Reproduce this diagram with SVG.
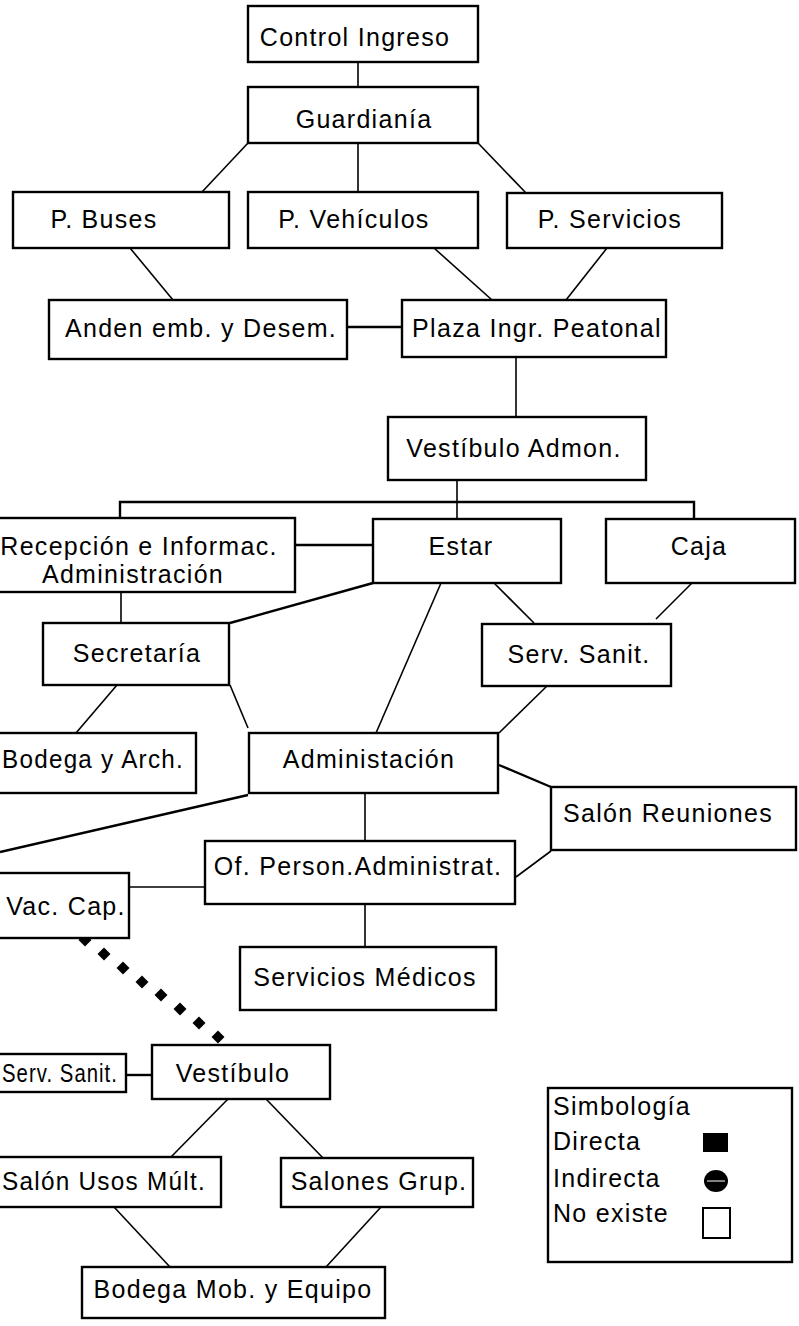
<svg xmlns="http://www.w3.org/2000/svg" xmlns:xlink="http://www.w3.org/1999/xlink" width="799" height="1326" viewBox="0 0 799 1326">
<style>
.b{fill:#fff;stroke:#000;stroke-width:2.4}
.c line,.c polyline{stroke:#000;stroke-width:1.6;fill:none}
.c .t{stroke-width:2.4}
text{font-family:"Liberation Sans",Arial,Helvetica,sans-serif;font-size:25px;letter-spacing:1.3px;fill:#000;text-anchor:middle}
.e{text-anchor:end}
.s{text-anchor:start}
</style>
<defs>
<polygon id="dm" points="0,-6.5 6.5,0 0,6.5 -6.5,0" fill="#000"/>
</defs>
<rect width="799" height="1326" fill="#fff"/>
<g class="c" id="connectors">
<line x1="358" y1="62" x2="358" y2="87"/>
<line x1="248" y1="143" x2="202" y2="192"/>
<line x1="358" y1="143" x2="358" y2="192"/>
<line x1="478" y1="143" x2="526" y2="193"/>
<line x1="130" y1="248" x2="173" y2="300"/>
<line x1="434" y1="248" x2="492" y2="300"/>
<line x1="607" y1="248" x2="566" y2="300"/>
<line class="t" x1="347" y1="327" x2="402" y2="327"/>
<line x1="516" y1="357" x2="516" y2="417"/>
<line x1="457" y1="480" x2="457" y2="519"/>
<polyline class="t" points="120,518 120,502 694,502 694,519"/>
<line class="t" x1="295" y1="545" x2="373" y2="545"/>
<line class="t" x1="373" y1="583" x2="230" y2="623"/>
<line x1="441" y1="583" x2="376" y2="733"/>
<line x1="494" y1="583" x2="534" y2="623"/>
<line x1="692" y1="583" x2="656" y2="619"/>
<line x1="121" y1="592" x2="121" y2="623"/>
<line x1="117" y1="685" x2="76" y2="733"/>
<line x1="230" y1="685" x2="248" y2="728"/>
<line x1="547" y1="686" x2="499" y2="733"/>
<line class="t" x1="499" y1="765" x2="551" y2="787"/>
<line class="t" x1="248" y1="795" x2="0" y2="852"/>
<line x1="365" y1="793" x2="365" y2="841"/>
<line x1="516" y1="877" x2="551" y2="851"/>
<line x1="129" y1="887" x2="205" y2="887"/>
<line x1="365" y1="904" x2="365" y2="947"/>
<line class="t" x1="126" y1="1075" x2="152" y2="1075"/>
<line x1="228" y1="1099" x2="171" y2="1157"/>
<line x1="266" y1="1099" x2="323" y2="1158"/>
<line x1="114" y1="1207" x2="170" y2="1267"/>
<line x1="381" y1="1207" x2="326" y2="1267"/>
<g id="dotted">
<use xlink:href="#dm" x="85" y="940"/>
<use xlink:href="#dm" x="104" y="954"/>
<use xlink:href="#dm" x="123" y="968"/>
<use xlink:href="#dm" x="142" y="982"/>
<use xlink:href="#dm" x="161" y="995"/>
<use xlink:href="#dm" x="180" y="1009"/>
<use xlink:href="#dm" x="199" y="1023"/>
<use xlink:href="#dm" x="218" y="1037"/>
</g>
</g>
<g id="control"><rect class="b" x="248" y="6" width="230" height="56"/><text x="355" y="46">Control Ingreso</text></g>
<g id="guardiania"><rect class="b" x="248" y="87" width="230" height="56"/><text x="364" y="128">Guardianía</text></g>
<g id="pbuses"><rect class="b" x="13" y="192" width="216" height="56"/><text x="104" y="228">P. Buses</text></g>
<g id="pvehiculos"><rect class="b" x="248" y="192" width="230" height="56"/><text x="354" y="228">P. Vehículos</text></g>
<g id="pservicios"><rect class="b" x="507" y="193" width="215" height="55"/><text x="610" y="228">P. Servicios</text></g>
<g id="anden"><rect class="b" x="49" y="300" width="298" height="59"/><text x="201" y="337">Anden emb. y Desem.</text></g>
<g id="plaza"><rect class="b" x="402" y="300" width="264" height="57"/><text x="537" y="337">Plaza Ingr. Peatonal</text></g>
<g id="vestadmon"><rect class="b" x="388" y="417" width="258" height="63"/><text x="514" y="457">Vestíbulo Admon.</text></g>
<g id="recepcion"><rect class="b" x="-3" y="518" width="298" height="74"/><text x="139" y="555">Recepción e Informac.</text><text x="133" y="583">Administración</text></g>
<g id="estar"><rect class="b" x="373" y="519" width="188" height="64"/><text x="461" y="555">Estar</text></g>
<g id="caja"><rect class="b" x="606" y="519" width="189" height="64"/><text x="699" y="555">Caja</text></g>
<g id="secretaria"><rect class="b" x="43" y="623" width="186" height="62"/><text x="137" y="662">Secretaría</text></g>
<g id="servsanit"><rect class="b" x="482" y="624" width="189" height="62"/><text x="579" y="663">Serv. Sanit.</text></g>
<g id="bodegaarch"><rect class="b" x="-3" y="733" width="199" height="60"/><text class="s" x="2" y="768" textLength="182" lengthAdjust="spacingAndGlyphs">Bodega y Arch.</text></g>
<g id="administacion"><rect class="b" x="249" y="733" width="249" height="60"/><text x="369" y="768">Administación</text></g>
<g id="salonreuniones"><rect class="b" x="551" y="787" width="245" height="63"/><text x="668" y="822">Salón Reuniones</text></g>
<g id="ofperson"><rect class="b" x="205" y="841" width="310" height="63"/><text x="358" y="875">Of. Person.Administrat.</text></g>
<g id="vaccap"><rect class="b" x="-3" y="873" width="132" height="65"/><text x="66" y="915">Vac. Cap.</text></g>
<g id="servmedicos"><rect class="b" x="240" y="947" width="256" height="63"/><text x="365" y="986">Servicios Médicos</text></g>
<g id="servsanit2"><rect class="b" x="-3" y="1054" width="129" height="38"/><text class="s" x="2" y="1082" textLength="116" lengthAdjust="spacingAndGlyphs">Serv. Sanit.</text></g>
<g id="vestibulo"><rect class="b" x="152" y="1045" width="178" height="54"/><text x="233" y="1082">Vestíbulo</text></g>
<g id="salonusos"><rect class="b" x="-3" y="1157" width="224" height="50"/><text class="s" x="2" y="1190" textLength="204" lengthAdjust="spacingAndGlyphs">Salón Usos Múlt.</text></g>
<g id="salonesgrup"><rect class="b" x="281" y="1158" width="192" height="49"/><text x="379" y="1190">Salones Grup.</text></g>
<g id="bodegamob"><rect class="b" x="82" y="1267" width="303" height="51"/><text x="233" y="1298">Bodega Mob. y Equipo</text></g>
<g id="legend">
<rect class="b" x="548" y="1088" width="244" height="174"/>
<text class="s" x="553" y="1115">Simbología</text>
<text class="s" x="553" y="1150">Directa</text>
<text class="s" x="553" y="1187">Indirecta</text>
<text class="s" x="553" y="1222">No existe</text>
<rect x="703" y="1133" width="25" height="19" fill="#000"/>
<ellipse cx="716" cy="1181" rx="12" ry="11" fill="#000"/>
<line x1="707" y1="1181" x2="725" y2="1181" stroke="#fff" stroke-width="1"/>
<rect x="703" y="1208" width="27" height="30" fill="none" stroke="#000" stroke-width="2"/>
</g>
</svg>
